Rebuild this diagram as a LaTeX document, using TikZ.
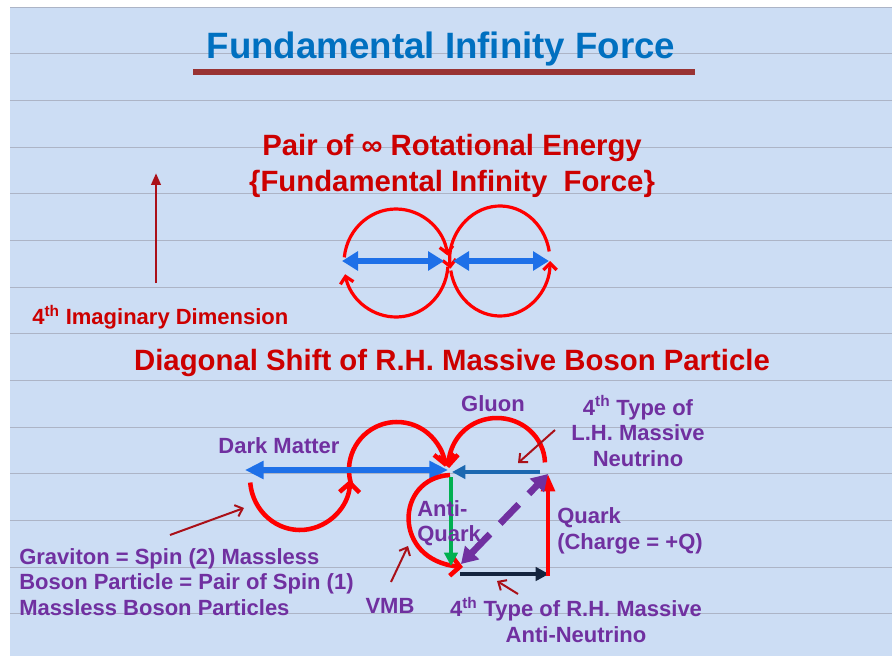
\documentclass[tikz,border=0pt]{standalone}
\usepackage{fontspec}
\setmainfont{Liberation Sans}
\usetikzlibrary{arrows.meta}
\definecolor{slideblue}{RGB}{204,221,244}
\definecolor{rulegray}{RGB}{172,180,198}
\definecolor{titleblue}{RGB}{0,112,192}
\definecolor{barred}{RGB}{153,51,51}
\definecolor{headred}{RGB}{204,0,0}
\definecolor{loopred}{RGB}{255,0,0}
\definecolor{ptrred}{RGB}{170,16,24}
\definecolor{labpurple}{RGB}{112,48,160}
\definecolor{axisblue}{RGB}{30,112,232}
\definecolor{steelblue}{RGB}{28,104,176}
\definecolor{navyline}{RGB}{20,36,62}
\definecolor{gluegreen}{RGB}{0,176,80}

\begin{document}
\begin{tikzpicture}[x=0.75pt, y=-0.75pt,
  title/.style={font=\fontsize{27.5}{32}\selectfont\bfseries, text=titleblue, inner sep=0pt},
  heading/.style={font=\fontsize{22}{27}\selectfont\bfseries, text=headred, inner sep=0pt, align=center},
  tag/.style={font=\fontsize{16.5}{19.2}\selectfont\bfseries, text=labpurple, inner sep=0pt},
  ring/.style={draw=loopred, line width=2.4pt, -{Straight Barb[length=5pt,width=10pt]}},
  swirl/.style={draw=loopred, line width=3.4pt, -{Straight Barb[length=7pt,width=15pt]}},
  pointer/.style={draw=ptrred, line width=1.5pt, -{Straight Barb[length=5pt,width=9pt]}},
  spin/.style={draw=axisblue, line width=4.8pt, {Triangle[length=12pt,width=14pt]}-{Triangle[length=12pt,width=14pt]}},
  flow/.style={line width=3.4pt, -{Triangle[length=10pt,width=10pt]}}
]
\useasboundingbox (0,0) rectangle (892,656);
\fill[white] (0,0) rectangle (892,656);
\fill[slideblue] (10,7) rectangle (892,656);
\foreach \k in {0,...,13}
  \draw[rulegray, line width=0.45pt] (10,{7+46.67*\k}) -- (892,{7+46.67*\k});

\node[title] (title) at (441,49) {Fundamental Infinity Force};
\coordinate (barL) at (193,72);
\coordinate (barR) at (695,72);
\draw[barred, line width=5pt] (barL) -- (barR);

\node[heading] (pair) at (452,166) {Pair of ∞ Rotational Energy\\\{Fundamental Infinity~ Force\}};
\node[heading] (diag) at (452,363) {Diagonal Shift of R.H. Massive Boson Particle};
\node[tag, text=headred, anchor=west] (imag) at (32,317) {4\textsuperscript{th} Imaginary Dimension};
\coordinate (dimB) at (156,283);
\coordinate (dimT) at (156,173);
\draw[ptrred, line width=2.2pt, -{Triangle[length=9pt,width=7pt]}] (dimB) -- (dimT);

\coordinate (lcen) at (396,263);
\coordinate (rcen) at (500,261);
\draw[ring] ([shift={(186:52 and 54)}]lcen) arc[start angle=186, end angle=352, x radius=52, y radius=54];
\draw[ring] ([shift={(4:52 and 54)}]lcen) arc[start angle=4, end angle=168, x radius=52, y radius=54];
\draw[ring] ([shift={(-10:50 and 55)}]rcen) arc[start angle=-10, end angle=-188, x radius=50, y radius=55];
\draw[ring] ([shift={(170:50 and 55)}]rcen) arc[start angle=170, end angle=0, x radius=50, y radius=55];
\coordinate (sl1) at (342,261);
\coordinate (sl2) at (444,261);
\coordinate (sr1) at (453,261);
\coordinate (sr2) at (549,261);
\draw[spin] (sl1) -- (sl2);
\draw[spin] (sr1) -- (sr2);

\coordinate (dmL) at (245,470);
\coordinate (dmR) at (448,470);
\coordinate (gcen) at (300,478);
\coordinate (hcen) at (397,470);
\coordinate (ucen) at (497,464);
\draw[swirl] ([shift={(175:50 and 52)}]gcen) arc[start angle=175, end angle=2, x radius=50, y radius=52];
\draw[swirl] ([shift={(160:48 and 48)}]hcen) arc[start angle=160, end angle=356, x radius=48, y radius=48];
\draw[swirl] ([shift={(-2:48 and 46)}]ucen) arc[start angle=-2, end angle=-185, x radius=48, y radius=46];
\draw[spin, {Triangle[length=14pt,width=13pt]}-{Triangle[length=14pt,width=13pt]}] (dmL) -- (dmR);

\coordinate (vmbS) at (450,475);
\coordinate (vmbE) at (463,567);
\draw[swirl] (vmbS) .. controls (395,478) and (392,560) .. (vmbE);

\coordinate (lhS) at (540,472);
\coordinate (lhE) at (452,472);
\coordinate (aqT) at (451,477);
\coordinate (aqB) at (451,566);
\coordinate (nvL) at (460,574);
\coordinate (nvR) at (549,574);
\coordinate (qkB) at (548,576);
\coordinate (qkT) at (548,474);
\coordinate (dgA) at (461,564);
\coordinate (dgB) at (548,474);
\draw[flow, steelblue] (lhS) -- (lhE);
\draw[flow, gluegreen] (aqT) -- (aqB);
\draw[flow, navyline] (nvL) -- (nvR);
\draw[flow, loopred, -{Triangle[length=13pt,width=10pt]}] (qkB) -- (qkT);
\draw[labpurple, line width=5pt, dash pattern=on 20pt off 11pt, {Triangle[length=12pt,width=14pt]}-{Triangle[length=12pt,width=14pt]}] (dgA) -- (dgB);

\coordinate (p1a) at (170,535);
\coordinate (p1b) at (244,508);
\coordinate (p2a) at (391,582);
\coordinate (p2b) at (408,546);
\coordinate (p3a) at (518,594);
\coordinate (p3b) at (497,581);
\coordinate (p4a) at (555,430);
\coordinate (p4b) at (518,463);
\draw[pointer] (p1a) -- (p1b);
\draw[pointer] (p2a) -- (p2b);
\draw[pointer] (p3a) -- (p3b);
\draw[pointer] (p4a) -- (p4b);

\node[tag] (dark) at (279,446) {Dark Matter};
\node[tag] (gluon) at (493,404) {Gluon};
\node[tag, align=center] (lhnu) at (638,431) {4\textsuperscript{th} Type of\\L.H. Massive\\Neutrino};
\node[tag, align=left, anchor=west] (antiq) at (417,523) {Anti-\\Quark};
\node[tag, align=left, anchor=west] (quark) at (557,531) {Quark\\(Charge = +Q)};
\node[tag, align=left, anchor=west] (grav) at (19,582) {Graviton = Spin (2) Massless\\Boson Particle = Pair of Spin (1)\\Massless Boson Particles};
\node[tag] (vmb) at (390,606) {VMB};
\node[tag, align=center] (rhnu) at (576,620) {4\textsuperscript{th} Type of R.H. Massive\\Anti-Neutrino};
\end{tikzpicture}
\end{document}
